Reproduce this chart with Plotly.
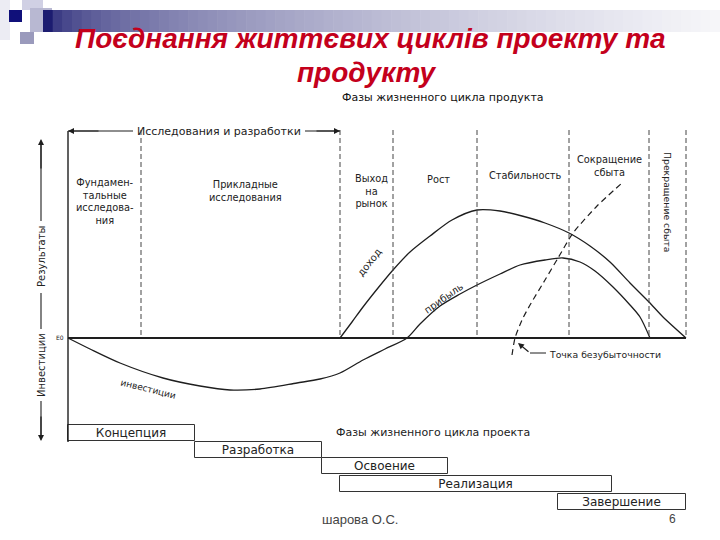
import plotly.graph_objects as go

W, H = 720, 540
BASE = 338  # pixel row of the zero (break-even) line


def V(py):
    """pixel row -> value on the diagram's vertical scale"""
    return BASE - py


# ---------------- data ----------------
title_lines = ["Поєднання життєвих циклів проекту та", "продукту"]

phase_bounds = [141, 340, 393, 477, 569, 649, 686]

# revenue ("доход")
rev_t = [340, 352, 363, 378, 393, 410, 430, 452, 477, 500, 522, 545, 569, 590, 610, 630, 649, 663, 686]
rev_v = [0, 16, 31, 50, 68, 86, 102, 118, 128, 127, 122, 115, 105, 92, 76, 55, 36, 21, 0]

# investments -> profit ("инвестиции" / "прибыль")
cf_t = [68, 90, 120, 163, 200, 230, 260, 297, 320, 340, 363, 385, 407, 420, 440, 460, 477, 500, 520, 545, 563, 580, 595, 613, 630, 640, 650]
cf_v = [0, -11, -25, -40, -48, -52, -51, -45, -41, -35, -22, -11, 0, 14, 32, 44, 53, 64, 73, 78, 80, 76, 67, 51, 33, 21, 0]

# cumulative (dashed)
cum_t = [512, 515, 522, 530, 545, 558, 573, 597, 622]
cum_v = [-17, 0, 18, 33, 58, 80, 105, 132, 155]

project_phases = ["Концепция", "Разработка", "Освоение", "Реализация", "Завершение"]
proj_start = [68, 195, 322, 340, 558]
proj_end = [195, 322, 448, 612, 686]
proj_row = [433, 450, 466, 484, 502]  # pixel rows of the bars

INK = "#1e1e1e"
FONT = "DejaVu Sans, Verdana, sans-serif"
TFONT = "Liberation Sans, Arial, sans-serif"

fig = go.Figure()

# project phase bars
fig.add_trace(go.Bar(
    orientation="h",
    y=[V(r) for r in proj_row],
    base=proj_start,
    x=[e - s for s, e in zip(proj_start, proj_end)],
    width=16.5,
    marker=dict(color="white", line=dict(color="#333", width=1)),
    text=project_phases,
    textposition="inside",
    insidetextanchor="middle",
    textangle=0,
    constraintext="none",
    textfont=dict(family=FONT, size=12, color="#222"),
    hoverinfo="skip",
    showlegend=False,
    cliponaxis=False,
))

# curves
fig.add_trace(go.Scatter(x=rev_t, y=rev_v, mode="lines", line=dict(color=INK, width=1.3, shape="spline", smoothing=0.8),
                         showlegend=False, hoverinfo="skip"))
fig.add_trace(go.Scatter(x=cf_t, y=cf_v, mode="lines", line=dict(color=INK, width=1.3, shape="spline", smoothing=0.8),
                         showlegend=False, hoverinfo="skip"))
fig.add_trace(go.Scatter(x=cum_t, y=cum_v, mode="lines", line=dict(color=INK, width=1.2, dash="6px,4px", shape="spline", smoothing=0.6),
                         showlegend=False, hoverinfo="skip"))

shapes = []


def prect(x0, y0, x1, y1, color):
    shapes.append(dict(type="rect", xref="paper", yref="paper", x0=x0 / W, x1=x1 / W,
                       y0=1 - y1 / H, y1=1 - y0 / H, fillcolor=color, line=dict(width=0), layer="below"))


# header decoration
prect(0, 0, 10, 40, "#ececf3")
prect(22, 0, 43, 10, "#d0d0e4")
prect(30, 8, 52, 32, "#b8b8d2")
prect(20, 32, 34, 44, "#9a9abc")
prect(9, 10, 22, 22, "#10107a")
n = 70
x0g, x1g = 43, 720
for i in range(n):
    t = i / (n - 1)
    s = t ** 0.45
    c0, c1 = (28, 28, 112), (246, 246, 249)
    col = "rgb(%d,%d,%d)" % tuple(round(a + (b - a) * s) for a, b in zip(c0, c1))
    xa = x0g + (x1g - x0g) * i / n
    xb = x0g + (x1g - x0g) * (i + 1) / n + 0.6
    prect(xa, 10, xb, 32, col)

# frame
shapes.append(dict(type="line", x0=68, x1=68, y0=V(131), y1=V(442), line=dict(color=INK, width=1.4)))
shapes.append(dict(type="line", x0=68, x1=686, y0=0, y1=0, line=dict(color=INK, width=1.8)))
# phase boundaries
for b in phase_bounds:
    shapes.append(dict(type="line", x0=b, x1=b, y0=V(130), y1=0, line=dict(color="#444", width=1, dash="5px,3px")))
# research arrow line pieces
shapes.append(dict(type="line", x0=68, x1=133, y0=V(131), y1=V(131), line=dict(color=INK, width=1.2)))
shapes.append(dict(type="line", x0=305, x1=340, y0=V(131), y1=V(131), line=dict(color=INK, width=1.2)))
# vertical axis line pieces
shapes.append(dict(type="line", x0=41, x1=41, y0=V(143), y1=V(221), line=dict(color=INK, width=1.1)))
shapes.append(dict(type="line", x0=41, x1=41, y0=V(293), y1=V(329), line=dict(color=INK, width=1.1)))
shapes.append(dict(type="line", x0=41, x1=41, y0=V(401), y1=V(436), line=dict(color=INK, width=1.1)))
# break-even pointer
shapes.append(dict(type="line", x0=530, x1=546, y0=V(353), y1=V(353), line=dict(color=INK, width=1)))

ann = []


def txt(x, py, s, size=10, angle=0, color="#222", family=FONT):
    ann.append(dict(x=x, y=V(py), text=s, showarrow=False, textangle=angle,
                    font=dict(family=family, size=size, color=color)))


def arrow(x, py, ax, apy, width=1.2):
    ann.append(dict(x=x, y=V(py), ax=ax, ay=V(apy), axref="x", ayref="y", xref="x", yref="y",
                    text="", showarrow=True, arrowhead=2, arrowsize=1, arrowwidth=width, arrowcolor=INK))


# title
for i, line in enumerate(title_lines):
    ann.append(dict(x=370 if i == 0 else 367, y=V(38 if i == 0 else 72), text="<b><i>%s</i></b>" % line,
                    showarrow=False, font=dict(family=TFONT, size=28, color="#c4001c")))

txt(443, 97, "Фазы жизненного цикла продукта", 11, color="#111")
txt(219, 131, "Исследования и разработки", 11)
arrow(68, 131, 100, 131)
arrow(340, 131, 315, 131)

txt(105, 201, "Фундамен-<br>тальные<br>исследова-<br>ния", 9.8)
txt(245, 191, "Прикладные<br>исследования", 9.8)
txt(371, 191, "Выход<br>на<br>рынок", 9.8)
txt(438, 179, "Рост", 9.8)
txt(525, 175, "Стабильность", 9.8)
txt(609, 166, "Сокращение<br>сбыта", 9.8)
txt(668, 202, "Прекращение сбыта", 9.3, angle=90)

txt(369, 262, "доход", 10, angle=-52)
txt(443, 298, "прибыль", 9.8, angle=-35)
txt(148, 389, "инвестиции", 9, angle=14)

txt(41, 257, "Результаты", 10, angle=-90)
txt(41, 365, "Инвестиции", 10, angle=-90)
arrow(41, 139, 41, 170)
arrow(41, 441, 41, 415)
txt(60, 337, "E0", 6)

arrow(518, 343, 530, 353)
txt(605, 354, "Точка безубыточности", 9.3)

txt(433, 432, "Фазы жизненного цикла проекта", 11)

txt(360, 519, "шарова О.С.", 13, color="#444", family=TFONT)
txt(672, 519, "6", 12, color="#444", family=TFONT)

fig.update_layout(
    width=W, height=H, autosize=False,
    margin=dict(l=0, r=0, t=0, b=0),
    paper_bgcolor="white", plot_bgcolor="white",
    xaxis=dict(range=[0, W], visible=False, fixedrange=True),
    yaxis=dict(range=[BASE - H, BASE], visible=False, fixedrange=True),
    shapes=shapes, annotations=ann,
    bargap=0, showlegend=False,
)

fig.write_html("out.html", config={"displayModeBar": False},
               post_script="document.body.style.margin='0';document.body.style.overflow='hidden';")
